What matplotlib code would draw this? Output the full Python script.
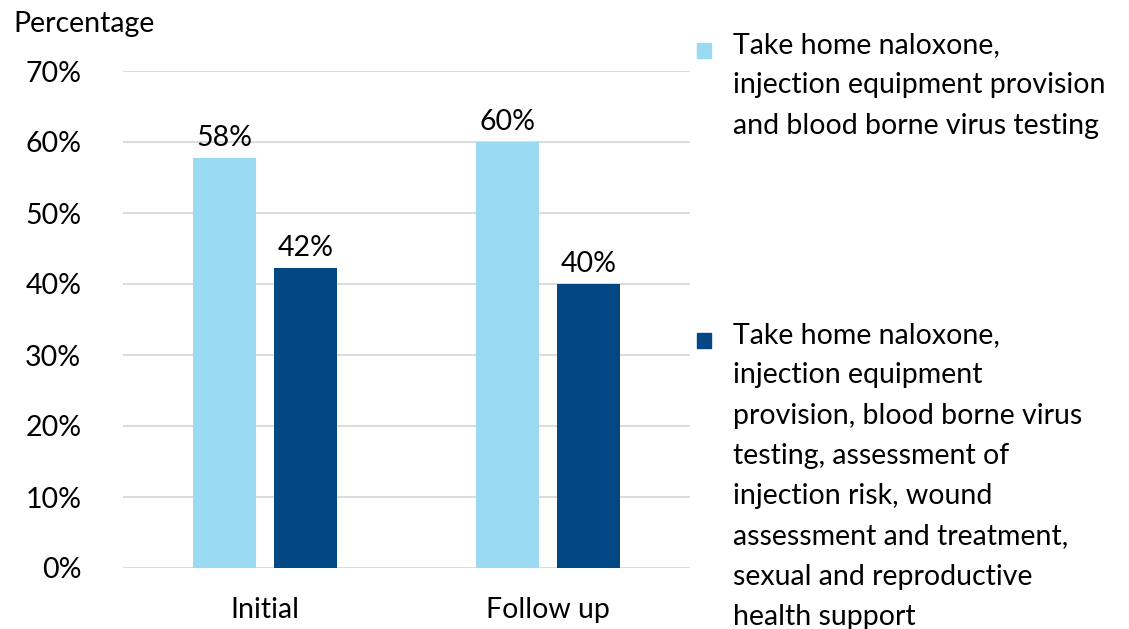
import matplotlib
matplotlib.use("Agg")
import matplotlib.pyplot as plt
from matplotlib.patches import Rectangle
import numpy as np

categories = ["Initial", "Follow up"]
series_names = [
    "Take home naloxone,\ninjection equipment provision\nand blood borne virus testing",
    "Take home naloxone,\ninjection equipment\nprovision, blood borne virus\ntesting, assessment of\ninjection risk, wound\nassessment and treatment,\nsexual and reproductive\nhealth support",
]
light_values = [57.7, 60.0]
dark_values = [42.3, 40.0]
yticks = [0, 10, 20, 30, 40, 50, 60, 70]

LIGHT = "#9BDAF3"
DARK = "#034785"
FONT = "Lato"
FS = 20.5

plt.rcParams["font.family"] = [FONT, "DejaVu Sans"]

W, H = 1129, 629
fig = plt.figure(figsize=(W / 100, H / 100), dpi=100)
ax = fig.add_axes([123 / W, 1 - 568 / H, (690 - 123) / W, (568 - 71) / H])

x = np.arange(len(categories))
bw = 0.222
off = 0.143
b1 = ax.bar(x - off, light_values, bw, color=LIGHT, zorder=3)
b2 = ax.bar(x + off, dark_values, bw, color=DARK, zorder=3)

for bars, vals in ((b1, light_values), (b2, dark_values)):
    for rect, v in zip(bars, vals):
        ax.text(rect.get_x() + rect.get_width() / 2, v + 1.0, f"{round(v):.0f}%",
                ha="center", va="bottom", fontsize=FS, color="#000000")

ax.set_xlim(-0.5, 1.5)
ax.set_ylim(0, 70)
ax.set_yticks(yticks)
ax.set_yticklabels([f"{t}%" for t in yticks], fontsize=FS)
ax.set_xticks(x)
ax.set_xticklabels(categories, fontsize=FS)
ax.tick_params(axis="both", length=0)
ax.tick_params(axis="y", pad=30)
ax.tick_params(axis="x", pad=21)
ax.grid(axis="y", color="#D9D9D9", linewidth=1.3, zorder=0)
for s in ax.spines.values():
    s.set_visible(False)

fig.text(13 / W, 1 - 24 / H, "Percentage", fontsize=FS, ha="left", va="center")

# legend
for name, col, ytop in ((series_names[0], LIGHT, 50), (series_names[1], DARK, 340)):
    fig.patches.append(Rectangle((697 / W, 1 - (ytop + 8) / H), 14 / W, 15 / H,
                                 transform=fig.transFigure, color=col))
    fig.text(733 / W, 1 - (ytop - 18) / H, name, fontsize=FS, ha="left", va="top",
             linespacing=1.68)

fig.savefig("out.png", dpi=100)
